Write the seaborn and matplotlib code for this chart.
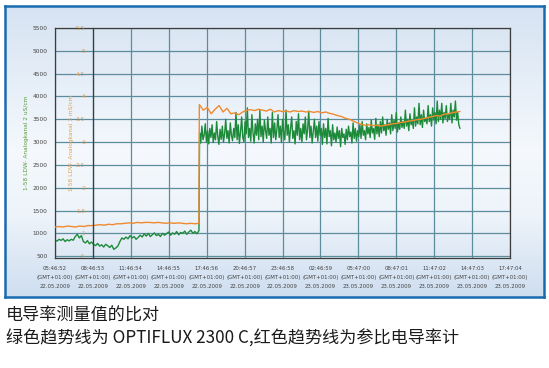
import numpy as np
import pandas as pd
import matplotlib
matplotlib.use("Agg")
import matplotlib.pyplot as plt
import seaborn as sns
from matplotlib.ticker import MultipleLocator, FixedLocator, FuncFormatter

# ---------------- data ----------------
x_tick_labels = [
    "05:46:52\n(GMT+01:00)\n22.05.2009", "08:46:53\n(GMT+01:00)\n22.05.2009",
    "11:46:54\n(GMT+01:00)\n22.05.2009", "14:46:55\n(GMT+01:00)\n22.05.2009",
    "17:46:56\n(GMT+01:00)\n22.05.2009", "20:46:57\n(GMT+01:00)\n22.05.2009",
    "23:46:58\n(GMT+01:00)\n22.05.2009", "02:46:59\n(GMT+01:00)\n23.05.2009",
    "05:47:00\n(GMT+01:00)\n23.05.2009", "08:47:01\n(GMT+01:00)\n23.05.2009",
    "11:47:02\n(GMT+01:00)\n23.05.2009", "14:47:03\n(GMT+01:00)\n23.05.2009",
    "17:47:04\n(GMT+01:00)\n23.05.2009",
]
x_tick_hours = [0, 3, 6, 9, 12, 15, 18, 21, 24, 27, 30, 33, 36]

step_hour = 11.39
end_hour = 32.04

# green: OPTIFLUX 2300 C (uS/cm), before and after the step
green_low = [850, 830, 870, 845, 880, 820, 860, 835, 870, 850,
             930, 980, 900, 950,
             820, 790, 840, 770, 810,
             760, 730, 780, 720, 750, 700, 760, 730, 690, 740,
             650, 680, 720,
             820, 900, 870,
             920, 880, 950, 900, 930, 870, 910,
             960, 920, 990, 940, 1000, 930, 970, 1010, 950, 980, 930, 1000, 960,
             990, 1030, 960, 1010, 980, 1040, 970, 1020, 1000, 1050, 980, 1030, 1070, 1000, 1040, 990, 1060]
green_high = [3200, 2980, 3350, 3050, 3150, 3400, 3000, 3250, 2960, 3300,
              3100, 3380, 2990, 3200, 3050, 3450, 3120, 2950, 3280, 3060,
              3350, 3000, 3180, 3500, 3080, 3250, 2980, 3420, 3150, 3030,
              3300, 3100, 3650, 3050, 3380, 2970, 3220, 3550, 3100, 3000,
              3450, 3180, 3750, 3100, 3300, 3020, 3600, 3200, 2980, 3400,
              3150, 3500, 3050, 3700, 3120, 3350, 3000, 3480, 3250, 3080,
              3550, 3150, 3300, 2980, 3650, 3100, 3420, 3050, 3280, 3600,
              3100, 3350, 2990, 3500, 3200, 3050, 3700, 3150, 3380, 3000,
              3300, 3550, 3080, 3250, 2960, 3450, 3150, 3620, 3050, 3300,
              3000, 3400, 3180, 3550, 3050, 3280, 3680, 3100, 3350, 2980,
              3250, 3500, 3100, 3350, 3020, 3450, 3150, 3300, 2950, 3400,
              3100, 3300, 2960, 3520, 3120, 3250, 2920, 3380, 3050, 3200,
              3000, 3330, 3080, 3250, 2900, 3300, 3100, 3180, 2950, 3280,
              3050, 3350, 3120, 3220, 2980, 3420, 3080, 3300, 3020, 3250,
              3120, 3380, 3080, 3450, 3150, 3250, 3050, 3400, 3180, 3320,
              3100, 3480, 3200, 3300, 3060, 3520, 3180, 3380, 3120, 3450,
              3200, 3550, 3250, 3380, 3150, 3500, 3280, 3420, 3180, 3600,
              3250, 3480, 3300, 3650, 3220, 3420, 3280, 3550, 3320, 3450,
              3300, 3700, 3350, 3500, 3250, 3620, 3380, 3480, 3300, 3750,
              3350, 3550, 3400, 3850, 3380, 3600, 3320, 3700, 3450, 3520,
              3400, 3800, 3450, 3600, 3350, 3750, 3480, 3650, 3400, 3900,
              3450, 3700, 3500, 3850, 3420, 3650, 3520, 3800, 3450, 3600,
              3500, 3850, 3420, 3700, 3550, 3900, 3480, 3650, 3380, 3300]

# orange: reference conductivity meter (mS/cm)
orange_low = [1.14, 1.15, 1.14, 1.16, 1.15, 1.14, 1.16, 1.15, 1.17,
              1.17, 1.18, 1.19, 1.18, 1.20, 1.19, 1.21,
              1.21, 1.22, 1.23, 1.22, 1.24, 1.23, 1.24,
              1.24, 1.23, 1.24, 1.23, 1.22, 1.23, 1.22, 1.23,
              1.22, 1.21, 1.22, 1.21, 1.22]
orange_high = [3.82, 3.70, 3.76, 3.62,
               3.72, 3.80, 3.66, 3.74,
               3.62, 3.64, 3.60, 3.66,
               3.70, 3.71, 3.69, 3.72, 3.70,
               3.68, 3.72, 3.66, 3.69, 3.67,
               3.68, 3.66, 3.69, 3.67, 3.68, 3.66, 3.67, 3.65, 3.67, 3.64, 3.66, 3.63,
               3.61, 3.58, 3.56, 3.52, 3.50, 3.46, 3.42, 3.39,
               3.37, 3.38, 3.36, 3.37, 3.35, 3.37, 3.38, 3.40,
               3.41, 3.43, 3.44, 3.46, 3.47, 3.49, 3.50, 3.52, 3.54,
               3.56, 3.58, 3.57, 3.61, 3.62, 3.64, 3.66, 3.67]

t_green = np.concatenate([np.linspace(0, step_hour, len(green_low)),
                          np.linspace(step_hour + 0.05, end_hour, len(green_high))])
t_orange = np.concatenate([np.linspace(0, step_hour, len(orange_low)),
                           np.linspace(step_hour + 0.03, end_hour, len(orange_high))])
df_green = pd.DataFrame({"hours": t_green, "uS": green_low + green_high})
df_orange = pd.DataFrame({"hours": t_orange, "mS": orange_low + orange_high})

# ---------------- figure ----------------
sns.set_theme(style="white")
plt.rcParams["font.family"] = ["DejaVu Sans"]
W, H = 549, 368
fig = plt.figure(figsize=(W / 100, H / 100), dpi=100)
fig.patch.set_facecolor("white")

# gradient frame
bg = fig.add_axes([5 / W, 1 - 297 / H, 539 / W, 291 / H], zorder=0)
pos = np.linspace(0, 1, 200)
stops = [0.0, 0.5, 0.72, 1.0]
cols = np.array([[0.84, 0.89, 0.95], [0.96, 0.975, 0.99], [0.93, 0.955, 0.98], [0.81, 0.87, 0.94]])
grad = np.stack([np.interp(pos, stops, cols[:, c]) for c in range(3)], axis=1)
bg.imshow(grad[:, None, :], aspect="auto", extent=[0, 1, 0, 1])
bg.set_xticks([]); bg.set_yticks([])
for s in bg.spines.values():
    s.set_color("#1a6ab0"); s.set_linewidth(1.8)

GREEN = "#1d8a3a"
ORANGE = "#f08a2e"

ax = fig.add_axes([55 / W, 1 - 258 / H, 455 / W, 230 / H], zorder=2)
ax.patch.set_alpha(0)
sns.lineplot(data=df_green, x="hours", y="uS", ax=ax, color=GREEN, lw=1.0, estimator=None)
ax.set_xlim(0, 36)
ax.set_ylim(460, 5500)
ax.yaxis.set_major_locator(FixedLocator([500, 1000, 1500, 2000, 2500, 3000, 3500, 4000, 4500, 5000, 5500]))
ax.yaxis.set_minor_locator(MultipleLocator(100))
ax.xaxis.set_major_locator(FixedLocator(x_tick_hours))
ax.set_xticklabels(x_tick_labels)
ax.xaxis.set_minor_locator(MultipleLocator(0.5))
ax.grid(True, which="major", color="#5d8c9c", lw=0.9)
ax.set_axisbelow(True)
for s in ax.spines.values():
    s.set_color("#3c3c3c"); s.set_linewidth(0.9)
ax.tick_params(axis="both", which="major", direction="out", length=4, width=0.6,
               color="#3c3c3c", labelsize=4.2, labelcolor="#444444", pad=1.5)
ax.tick_params(axis="both", which="minor", direction="out", length=2.5, width=0.5, color="#3c3c3c")
ax.tick_params(axis="x", which="major", labelsize=3.9, pad=2)
for lab in ax.get_xticklabels():
    lab.set_linespacing(1.9)
ax.set_xlabel("")
ax.set_ylabel("1-58 LDW- Analogkanal 2 uS/cm", fontsize=4.2, color="#5a9a3c")
ax.yaxis.set_label_coords(-0.058, 0.5)

# secondary axis (mS/cm) placed at second grid column
ax2 = fig.add_axes(ax.get_position(), zorder=3, sharex=ax)
ax2.patch.set_alpha(0)
sns.lineplot(data=df_orange, x="hours", y="mS", ax=ax2, color=ORANGE, lw=1.0, estimator=None)
ax2.set_ylim(0.46, 5.5)
ax2.yaxis.set_major_locator(FixedLocator([0.5, 1, 1.5, 2, 2.5, 3, 3.5, 4, 4.5, 5, 5.5]))
ax2.yaxis.set_minor_locator(MultipleLocator(0.1))
ax2.yaxis.set_major_formatter(FuncFormatter(lambda v, p: ("%g" % v).lstrip("0")))
for k in ["top", "right", "bottom"]:
    ax2.spines[k].set_visible(False)
ax2.spines["left"].set_position(("axes", 1 / 12))
ax2.spines["left"].set_color("#3c3c3c"); ax2.spines["left"].set_linewidth(0.9)
ax2.xaxis.set_visible(False)
ax2.tick_params(axis="y", which="major", direction="out", length=4, width=0.6,
                color="#3c3c3c", labelsize=4.2, labelcolor="#d9a05a", pad=1.5)
ax2.tick_params(axis="y", which="minor", direction="out", length=2.5, width=0.5, color="#3c3c3c")
ax2.set_xlabel("")
ax2.set_ylabel("1-58 LDW- Analogkanal 3 mS/cm", fontsize=4.2, color="#e0a050")
ax2.yaxis.set_label_coords(1 / 12 - 0.042, 0.5)

cjk = ["Noto Sans CJK SC", "DejaVu Sans"]
fig.text(6 / W, 1 - 316 / H, "电导率测量值的比对", fontsize=12.3, va="center", ha="left",
         color="#1a1a1a", family=cjk)
fig.text(6 / W, 1 - 339 / H, "绿色趋势线为 OPTIFLUX 2300 C,红色趋势线为参比电导率计", fontsize=12.3,
         va="center", ha="left", color="#1a1a1a", family=cjk)

fig.savefig("out.png", dpi=100)
